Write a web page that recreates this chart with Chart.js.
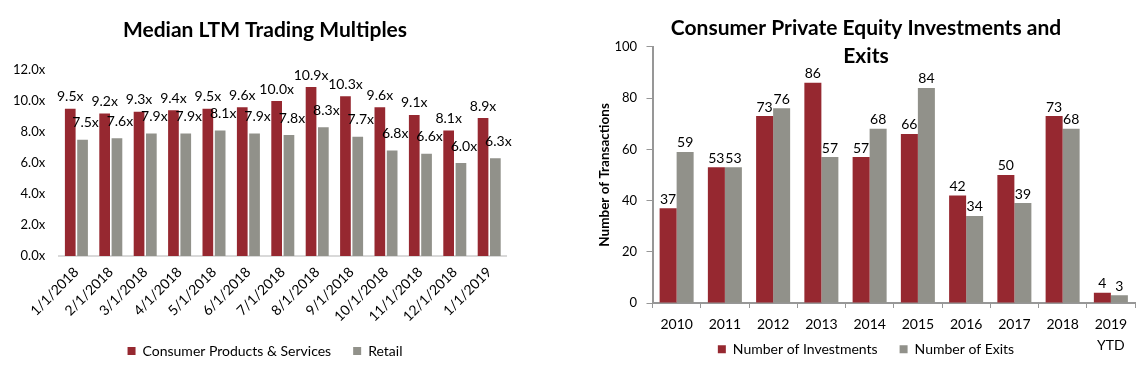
<!DOCTYPE html>
<html>
<head>
<meta charset="utf-8">
<title>Consumer multiples and PE activity</title>
<script src="https://cdn.jsdelivr.net/npm/chart.js@4.4.1/dist/chart.umd.min.js"></script>
<style>
  html, body { margin: 0; padding: 0; background: #fff; }
  body { width: 1143px; height: 379px; position: relative; overflow: hidden; }
  .panel { position: absolute; top: 0; }
  #multiples-panel { left: 0; }
  #pe-panel { left: 580px; }
</style>
</head>
<body>
<div class="panel" id="multiples-panel"><canvas id="multiples-chart" width="530" height="379"></canvas></div>
<div class="panel" id="pe-panel"><canvas id="pe-chart" width="563" height="379"></canvas></div>
<script>
// left chart: median LTM trading multiples
const months = ["1/1/2018", "2/1/2018", "3/1/2018", "4/1/2018", "5/1/2018", "6/1/2018", "7/1/2018",
  "8/1/2018", "9/1/2018", "10/1/2018", "11/1/2018", "12/1/2018", "1/1/2019"];
const consumerProducts = [9.5, 9.2, 9.3, 9.4, 9.5, 9.6, 10.0, 10.9, 10.3, 9.6, 9.1, 8.1, 8.9];
const retail = [7.5, 7.6, 7.9, 7.9, 8.1, 7.9, 7.8, 8.3, 7.7, 6.8, 6.6, 6.0, 6.3];

// right chart: consumer PE investments and exits
const years = ["2010", "2011", "2012", "2013", "2014", "2015", "2016", "2017", "2018", ["2019", "YTD"]];
const investments = [37, 53, 73, 86, 57, 66, 42, 50, 73, 4];
const exits = [59, 53, 76, 57, 68, 84, 34, 39, 68, 3];

const RED = "#962830";
const GRAY = "#91918a";
const AXIS_GRAY = "#979797";
const FONT = "Lato";

// draws the value above every bar (no datalabels plugin available offline)
const barValueLabels = {
  id: "barValueLabels",
  afterDatasetsDraw(chart, args, opts) {
    const ctx = chart.ctx;
    ctx.save();
    ctx.font = opts.font;
    ctx.fillStyle = "#000";
    ctx.textAlign = "center";
    ctx.textBaseline = "middle";
    chart.data.datasets.forEach((ds, i) => {
      const meta = chart.getDatasetMeta(i);
      meta.data.forEach((bar, j) => {
        const text = ds.data[j].toFixed(opts.decimals) + opts.suffix;
        ctx.fillText(text, bar.x + ds.labelDx, bar.y - ds.labelLift);
      });
    });
    ctx.restore();
  },
};

// Excel puts the legend beside the two-line "2019 YTD" label; chart.js stacks
// them, so move the legend box up after layout
const liftLegend = {
  id: "liftLegend",
  afterLayout(chart, args, opts) {
    const legend = chart.legend;
    if (!legend || !opts.top) return;
    const dy = opts.top - legend.top;
    legend.top += dy;
    legend.bottom += dy;
  },
};

const legendOpts = {
  position: "bottom",
  labels: {
    boxWidth: 8,
    boxHeight: 8,
    padding: 22,
    color: "#000",
    font: { family: FONT, size: 14 },
  },
};

new Chart(document.getElementById("multiples-chart"), {
  type: "bar",
  data: {
    labels: months,
    datasets: [
      {
        label: "Consumer Products & Services",
        data: consumerProducts,
        backgroundColor: RED,
        categoryPercentage: 0.715,
        barPercentage: 0.87,
        labelLift: 12,
        labelDx: 0,
      },
      {
        label: "Retail",
        data: retail,
        backgroundColor: GRAY,
        categoryPercentage: 0.715,
        barPercentage: 0.87,
        labelLift: 17,
        labelDx: 3,
      },
    ],
  },
  options: {
    responsive: false,
    animation: false,
    layout: { padding: { left: 0, right: 0, top: 0, bottom: 11 } },
    plugins: {
      title: {
        display: true,
        text: "Median LTM Trading Multiples",
        color: "#000",
        font: { family: FONT, size: 21, weight: "bold" },
        padding: { top: 17.4, bottom: 27.4 },
      },
      legend: legendOpts,
      tooltip: { enabled: false },
      barValueLabels: { font: "14px " + FONT, suffix: "x", decimals: 1 },
    },
    scales: {
      x: {
        grid: { display: true, drawOnChartArea: false, drawTicks: false },
        border: { color: "#d9d9d9", width: 2 },
        ticks: {
          color: "#000",
          font: { family: FONT, size: 14 },
          maxRotation: 45,
          minRotation: 45,
          padding: 8,
          autoSkip: false,
        },
        afterFit: (scale) => { scale.height = 66; },
      },
      y: {
        min: 0,
        max: 12,
        grid: { display: false, drawTicks: false },
        border: { display: false },
        ticks: {
          stepSize: 2,
          padding: 14,
          color: "#000",
          font: { family: FONT, size: 13 },
          callback: (v) => v.toFixed(1) + "x",
        },
        afterFit: (scale) => { scale.width = 59.2; },
      },
      // empty right-hand strip so the title and legend centre like the source
      spacer: {
        type: "linear",
        position: "right",
        display: true,
        grid: { display: false },
        border: { display: false },
        ticks: { display: false },
        afterFit: (scale) => { scale.width = 23.6; },
      },
    },
  },
  plugins: [barValueLabels],
});

new Chart(document.getElementById("pe-chart"), {
  type: "bar",
  data: {
    labels: years,
    datasets: [
      {
        label: "Number of Investments",
        data: investments,
        backgroundColor: RED,
        categoryPercentage: 0.705,
        barPercentage: 1,
        labelLift: 9,
        labelDx: 0,
      },
      {
        label: "Number of Exits",
        data: exits,
        backgroundColor: GRAY,
        categoryPercentage: 0.705,
        barPercentage: 1,
        labelLift: 9,
        labelDx: 0,
      },
    ],
  },
  options: {
    responsive: false,
    animation: false,
    layout: { padding: { left: 17, right: 8, top: 0, bottom: -25 } },
    plugins: {
      title: {
        display: true,
        text: ["Consumer Private Equity Investments and", "Exits"],
        color: "#000",
        font: { family: FONT, size: 21, weight: "bold", lineHeight: 1.35 },
        // the second title line sits over the plot, as in the source
        padding: { top: 14, bottom: -23.8 },
      },
      legend: legendOpts,
      liftLegend: { top: 320.3 },
      tooltip: { enabled: false },
      barValueLabels: { font: "14px " + FONT, suffix: "", decimals: 0 },
    },
    scales: {
      x: {
        grid: { display: true, drawOnChartArea: false, drawTicks: true, tickLength: 5, color: AXIS_GRAY, offset: true },
        border: { color: AXIS_GRAY, width: 2 },
        ticks: {
          color: "#000",
          font: { family: FONT, size: 14, lineHeight: 1.5 },
          maxRotation: 0,
          padding: 6,
          autoSkip: false,
        },
        afterFit: (scale) => { scale.height = 55; },
      },
      y: {
        min: 0,
        max: 100,
        grid: { display: true, drawOnChartArea: false, drawTicks: true, tickLength: 6, color: AXIS_GRAY },
        border: { color: AXIS_GRAY, width: 2 },
        ticks: {
          stepSize: 20,
          padding: 9.5,
          color: "#000",
          font: { family: FONT, size: 13 },
        },
        title: {
          display: true,
          text: "Number of Transactions",
          color: "#000",
          font: { family: FONT, size: 13.5, weight: "bold" },
          padding: 0,
        },
        afterFit: (scale) => { scale.width = 55.5; },
      },
    },
  },
  plugins: [barValueLabels, liftLegend],
});
</script>
</body>
</html>
